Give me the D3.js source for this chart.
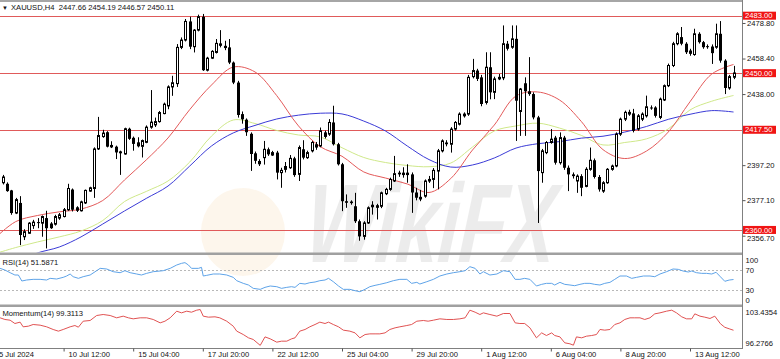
<!DOCTYPE html>
<html>
<head>
<meta charset="utf-8">
<script src="https://cdn.jsdelivr.net/npm/d3@7/dist/d3.min.js"></script>
<style>
html,body{margin:0;padding:0;background:#fff;overflow:hidden;}
svg{display:block;font-family:"Liberation Sans",Arial,sans-serif;}
</style>
</head>
<body>
<svg id="chart" width="780" height="359"></svg>
<script>
// ---------------- DATA ----------------
const symbolTitle = "XAUUSD,H4";
const lastOHLC = "2447.66 2454.19 2446.57 2450.11";
const firstBar = 2;
const opens = [
2387.1,2386.5,2382.7,2369.7,2375.5,2356.1,2358.1,2362.5,2364.5,2363.9,
2366.8,2363.7,2363.3,2366.8,2367.7,2371.6,2383.2,2373.0,2371.0,2375.5,
2382.3,2383.8,2406.5,2413.6,2416.1,2408.8,2407.8,2405.1,2403.6,2418.1,
2412.9,2410.3,2408.0,2410.3,2419.0,2420.3,2422.2,2426.8,2431.2,2442.1,
2444.0,2464.8,2469.0,2479.7,2465.2,2474.7,2482.4,2451.7,2458.6,2461.9,
2467.1,2465.7,2464.8,2456.1,2444.6,2426.5,2423.3,2415.2,2404.0,2399.6,
2401.5,2406.3,2403.0,2404.4,2392.9,2396.7,2395.7,2401.1,2391.9,2406.3,
2401.5,2405.4,2409.2,2408.2,2416.0,2415.0,2421.7,2409.2,2397.7,2376.5,
2376.3,2373.6,2365.0,2356.3,2364.0,2373.3,2374.2,2373.6,2380.8,2383.3,
2388.1,2392.9,2392.9,2392.9,2391.9,2381.5,2379.0,2379.4,2388.1,2389.0,
2393.8,2405.4,2410.2,2409.2,2417.9,2420.7,2425.5,2426.5,2448.0,2451.5,
2447.6,2433.2,2453.4,2439.0,2446.7,2447.3,2466.9,2464.9,2469.7,2428.0,
2444.2,2439.6,2438.0,2424.6,2392.9,2404.4,2410.2,2413.0,2398.6,2413.0,
2395.7,2391.9,2388.1,2390.9,2385.0,2394.8,2400.0,2390.4,2382.3,2387.1,
2394.8,2396.7,2415.0,2423.6,2426.5,2426.9,2417.9,2423.6,2425.5,2430.3,
2430.3,2424.6,2434.6,2442.8,2454.4,2466.9,2470.7,2466.9,2463.0,2460.7,
2472.6,2467.8,2465.5,2465.3,2464.9,2472.6,2457.2,2441.5,2447.66];
const highs = [
2391.6,2387.3,2383.0,2378.4,2379.4,2360.4,2364.5,2365.8,2366.8,2368.3,
2371.0,2364.5,2368.7,2369.7,2372.6,2386.5,2383.8,2373.6,2376.8,2383.2,
2384.8,2407.4,2424.9,2417.5,2416.7,2410.9,2408.4,2405.5,2418.7,2418.7,
2413.6,2413.2,2411.9,2420.0,2440.3,2424.5,2428.3,2433.1,2443.0,2448.5,
2466.7,2470.5,2481.1,2482.4,2475.3,2483.6,2484.0,2459.4,2463.2,2469.6,
2474.7,2468.6,2469.6,2456.7,2445.6,2428.0,2424.0,2416.0,2405.0,2400.6,
2411.1,2407.3,2405.4,2405.4,2395.7,2399.0,2403.0,2402.0,2408.5,2411.5,
2405.5,2411.0,2410.5,2418.8,2417.0,2423.6,2431.3,2410.0,2398.5,2380.4,
2377.0,2381.3,2366.0,2365.0,2373.5,2376.5,2375.0,2382.0,2384.2,2390.0,
2402.5,2394.0,2396.0,2397.7,2393.0,2384.2,2383.0,2389.0,2391.0,2395.5,
2406.5,2412.0,2411.5,2419.0,2422.5,2427.5,2427.5,2449.0,2458.2,2452.5,
2449.0,2462.0,2462.0,2448.0,2449.5,2477.4,2468.5,2477.4,2477.4,2441.5,
2447.6,2459.2,2439.0,2425.5,2406.5,2411.0,2417.9,2414.0,2416.0,2414.0,
2397.0,2393.0,2391.9,2392.0,2396.0,2407.3,2401.0,2391.5,2388.0,2395.5,
2397.5,2416.0,2424.5,2428.5,2429.0,2429.5,2426.5,2427.5,2437.1,2431.5,
2431.0,2436.0,2443.5,2455.5,2468.0,2473.5,2476.5,2467.8,2464.0,2475.5,
2473.5,2468.5,2466.5,2466.5,2478.4,2479.9,2458.0,2449.0,2454.19];
const lows = [
2386.1,2381.9,2368.7,2369.1,2351.3,2354.2,2357.7,2360.6,2361.0,2356.1,
2349.4,2360.6,2362.5,2365.8,2367.2,2371.0,2370.6,2370.3,2370.6,2374.9,
2381.9,2378.4,2405.9,2412.9,2407.4,2407.0,2400.7,2391.6,2403.2,2411.7,
2405.5,2407.4,2401.6,2409.8,2418.1,2419.1,2421.6,2426.4,2429.3,2437.0,
2442.1,2463.8,2468.2,2463.8,2461.9,2474.0,2451.3,2451.0,2458.1,2461.3,
2464.8,2463.2,2455.2,2443.7,2424.5,2421.0,2414.0,2393.9,2398.0,2396.7,
2397.5,2402.5,2402.5,2389.0,2384.2,2393.0,2395.0,2390.5,2388.1,2400.5,
2400.8,2404.5,2406.0,2407.5,2412.5,2414.0,2408.5,2397.0,2370.8,2372.7,
2374.5,2364.0,2353.8,2354.4,2363.5,2368.8,2366.0,2372.5,2380.0,2382.5,
2387.5,2390.5,2390.0,2387.1,2369.8,2377.0,2376.5,2378.5,2387.0,2384.0,
2383.3,2404.5,2408.0,2404.4,2417.0,2420.0,2424.5,2425.5,2447.0,2445.5,
2431.0,2432.0,2435.0,2435.1,2446.0,2446.0,2463.0,2464.0,2411.1,2414.0,
2414.0,2437.0,2423.5,2364.0,2387.1,2403.5,2409.5,2397.5,2397.5,2394.5,
2382.3,2389.5,2381.3,2379.4,2384.5,2394.0,2389.5,2382.0,2381.3,2386.5,
2394.0,2396.0,2414.0,2422.5,2425.5,2416.0,2417.0,2422.5,2424.5,2429.0,
2424.5,2423.6,2434.0,2442.0,2453.5,2466.0,2466.0,2461.0,2460.0,2460.0,
2467.0,2464.0,2464.0,2455.3,2464.0,2456.0,2438.0,2440.5,2446.57];
const closes = [
2390.4,2382.3,2369.7,2377.4,2357.1,2359.0,2363.9,2364.5,2364.1,2367.7,
2361.0,2361.0,2367.7,2368.7,2371.6,2383.8,2371.6,2371.0,2376.1,2382.7,
2384.2,2406.5,2414.2,2415.6,2407.8,2407.4,2404.5,2404.0,2418.1,2412.3,
2409.4,2408.0,2411.3,2419.0,2421.9,2422.2,2427.4,2432.2,2442.1,2444.5,
2464.8,2469.0,2479.7,2465.2,2474.7,2482.4,2451.7,2458.6,2462.5,2467.1,
2465.7,2464.4,2456.1,2444.6,2426.0,2423.5,2416.1,2403.6,2399.7,2397.7,
2406.3,2403.4,2404.4,2392.9,2394.2,2394.5,2401.1,2391.5,2407.3,2401.5,
2404.4,2410.2,2407.3,2416.9,2413.4,2421.7,2409.2,2397.7,2376.5,2375.6,
2375.4,2365.0,2356.3,2364.0,2372.7,2374.2,2372.7,2381.3,2383.3,2389.0,
2392.3,2391.9,2391.5,2391.5,2381.5,2378.5,2377.5,2388.1,2389.0,2394.2,
2405.4,2411.1,2409.2,2417.9,2421.7,2426.5,2426.5,2447.6,2451.5,2446.7,
2432.3,2453.4,2439.0,2446.7,2447.6,2466.9,2464.0,2469.7,2434.2,2440.9,
2439.6,2438.0,2424.6,2393.8,2405.4,2410.2,2412.1,2398.6,2413.0,2395.7,
2391.9,2390.9,2390.9,2384.2,2394.8,2400.0,2390.4,2383.3,2387.1,2394.8,
2396.7,2415.0,2423.6,2427.5,2427.5,2416.9,2425.5,2426.5,2430.7,2429.9,
2425.5,2435.1,2442.8,2454.4,2466.9,2472.6,2466.9,2462.0,2461.1,2472.6,
2467.8,2464.9,2465.0,2461.5,2472.6,2457.2,2441.5,2448.0,2450.11];

// moving averages sampled every 5 bars (bar index list below)
const maBars = [0,5,10,15,20,25,30,35,40,45,50,55,60,65,70,75,80,85,90,95,100,105,110,115,120,125,130,135,140,145,150,155,160,165,170];
const maRed = [2354.8,2364.8,2368.3,2370.4,2372.0,2376.9,2388.7,2400.2,2412.8,2429.1,2443.2,2453.5,2450.7,2437.1,2419.7,2407.8,2402.3,2393.3,2389.8,2386.4,2381.5,2389.5,2405.9,2420.2,2436.9,2439.2,2434.6,2422.3,2406.1,2401.0,2405.3,2416.2,2433.6,2449.5,2455.0];
const maYellow = [2346.2,2349.9,2353.1,2356.0,2359.4,2365.4,2376.3,2382.1,2388.1,2399.0,2413.9,2423.1,2421.1,2417.1,2414.5,2413.4,2407.2,2401.6,2398.7,2397.0,2396.3,2398.4,2407.6,2416.8,2419.7,2421.3,2418.5,2414.3,2408.8,2410.2,2412.3,2418.0,2428.9,2433.9,2437.2];
const maBlue = [2337.0,2341.6,2346.8,2350.2,2356.0,2363.4,2370.9,2378.1,2385.2,2396.7,2408.2,2415.7,2420.0,2423.7,2425.9,2427.0,2426.6,2422.5,2416.8,2408.2,2400.4,2396.1,2397.3,2401.3,2407.0,2409.5,2410.7,2412.7,2413.8,2416.2,2419.4,2423.5,2426.4,2428.5,2427.7];

const levels = [2483.00, 2450.00, 2417.50, 2360.00];
const priceTicks = [2478.80, 2458.40, 2438.00, 2397.20, 2377.10, 2356.70];

const timeTickBars = [0,16,32,48,64,80,96,112,128,144,160];
const timeTickLabels = ["5 Jul 2024","10 Jul 12:00","15 Jul 04:00","17 Jul 20:00","22 Jul 12:00","25 Jul 04:00","29 Jul 20:00","1 Aug 12:00","6 Aug 04:00","8 Aug 20:00","13 Aug 12:00"];

const rsiTitle = "RSI(14) 51.5871";
const rsiTicks = [100, 70, 30, 0];
const rsiLevels = [70, 30];
const rsiBars = [1.4,2.5,3.7,4.8,5.6,6.4,7.5,9.0,10.6,12.1,12.9,14.4,15.9,16.7,17.5,18.2,19.4,20.5,22.1,23.6,24.4,25.9,27.4,29.0,30.1,31.3,32.8,33.9,35.1,36.6,38.9,40.5,42.0,43.1,43.9,44.7,45.4,47.0,47.7,48.1,48.9,50.4,51.9,53.5,55.0,55.8,57.3,58.5,59.6,
61.2,62.3,63.5,65.0,66.1,67.3,68.4,69.2,70.3,71.5,72.6,73.8,74.9,76.1,76.9,78.0,79.2,80.3,81.8,83.0,84.1,85.3,86.4,87.6,88.7,90.3,91.8,93.3,94.9,96.0,97.2,97.9,99.5,101.0,102.5,104.1,105.6,107.1,108.3,109.4,110.6,111.7,112.5,114.0,115.6,117.1,118.6,119.8,
120.9,122.0,123.2,124.7,125.9,127.0,128.2,128.9,130.1,131.2,132.4,133.5,134.7,135.8,137.0,138.1,139.3,140.4,141.6,142.7,143.9,145.4,146.6,147.7,149.3,150.8,151.9,153.1,154.6,156.1,157.3,158.4,159.6,160.4,161.5,162.7,163.8,165.0,166,167,168,169,170];
const rsiValues = [73.9,70.6,65.2,60.6,60.6,48.6,50.6,51.9,51.9,50.6,53.9,52.6,55.9,58.6,62.6,57.2,53.9,57.2,60.6,69.2,73.9,72.6,67.2,65.2,69.2,65.2,62.6,60.6,63.9,67.2,69.2,73.9,80.6,83.9,85.3,80.6,73.9,73.9,75.9,58.6,59.9,62.6,62.6,60.6,55.9,49.2,43.9,40.6,33.9,
31.9,35.9,38.6,37.2,33.9,35.9,37.2,35.9,43.9,42.6,45.2,46.6,49.2,50.6,53.9,47.2,38.6,31.9,31.9,29.2,27.2,31.9,37.2,39.9,41.9,45.2,49.2,51.9,51.9,43.9,45.9,42.6,47.2,51.9,58.6,62.6,65.2,67.2,69.2,77.2,73.9,62.6,67.2,60.6,62.6,69.2,67.2,51.9,
51.9,53.9,51.9,38.6,41.9,43.9,43.9,40.6,45.9,41.9,40.6,39.2,41.9,43.9,43.9,41.9,40.6,43.9,45.9,51.9,58.6,58.6,53.9,55.9,58.6,58.6,57.2,62.6,67.2,72.6,71.9,68.6,66.6,68.6,65.2,63.9,63.9,62.6,66.0,57.0,48.0,50.5,51.6];

const momTitle = "Momentum(14) 99.3113";
const momMax = 103.4354, momMin = 96.2766;
const momBars = [1.4,2.5,3.7,4.8,6.0,6.7,7.9,9.0,10.6,12.1,13.6,14.8,15.9,17.5,18.6,19.4,20.5,22.1,23.6,25.1,26.7,28.2,29.7,30.9,32.0,33.6,35.1,36.6,38.2,39.3,40.5,42.0,43.1,44.3,45.4,46.6,47.4,48.1,49.3,50.8,51.9,53.5,55.0,55.8,57.3,58.5,59.6,
61.2,62.3,63.5,65.0,66.1,67.3,68.4,69.2,70.3,71.5,72.6,73.8,74.9,76.1,76.9,78.0,79.2,80.3,81.8,83.0,84.1,85.3,86.4,87.6,88.7,89.9,91.0,92.2,93.3,94.9,96.0,97.2,98.7,99.8,101.0,102.5,104.1,105.6,107.1,108.3,109.4,110.6,111.7,112.5,114.0,115.6,117.1,118.6,119.8,
120.9,122.0,123.2,124.7,125.9,127.0,128.2,128.9,130.1,131.2,132.4,133.2,133.9,135.1,136.2,137.4,138.5,139.3,140.4,141.6,142.7,143.9,145.0,146.2,147.3,148.5,149.6,150.8,151.9,153.1,154.6,155.8,156.9,158.1,159.2,160.4,161.1,162.3,163.4,164.6,165.7,167,168,169,170];
const momValues = [101.78,101.45,101.31,100.65,100.92,99.99,100.12,100.45,100.32,99.99,99.46,99.13,99.46,99.99,100.25,99.92,101.11,101.25,102.24,102.44,102.24,101.78,102.11,101.78,101.58,101.78,101.78,101.45,100.78,101.11,101.78,103.10,102.77,103.10,102.90,103.30,103.43,102.11,101.91,101.98,101.78,101.11,100.12,99.13,98.46,97.80,97.47,
96.30,97.99,97.60,96.94,97.14,97.14,97.60,97.80,99.13,99.46,99.99,100.45,100.92,100.65,100.92,100.45,99.99,99.33,99.13,98.79,97.80,98.46,98.59,98.59,98.59,98.79,99.46,99.79,99.99,100.25,100.45,101.11,101.25,101.11,101.31,101.58,101.45,101.45,101.58,101.78,103.30,102.90,102.44,102.77,102.44,102.11,102.64,102.64,100.78,
100.65,100.65,99.79,97.80,98.79,98.26,98.79,98.26,97.99,96.81,96.61,96.34,97.99,97.80,98.13,98.26,98.46,99.46,99.33,99.46,100.45,100.78,101.45,101.78,101.78,101.78,101.45,101.78,102.57,102.77,103.10,103.30,102.77,101.98,101.58,101.58,102.57,102.11,101.91,101.65,102.11,100.6,99.9,99.6,99.31];

// ---------------- LAYOUT ----------------
const W = 780, H = 359;
const axisX = 742.5;
const mainTop = 3, mainBot = 252.5;
const rsiTop = 255, rsiBot = 305;
const momTop = 307, momBot = 348;
const FONT = 7.6;

const svg = d3.select("#chart");
const x = d3.scaleLinear().domain([0, 170]).range([-6, 733.5]);
const yP = d3.scaleLinear().domain([2347.34, 2490.28]).range([252, 3]);
const yR = d3.scaleLinear().domain([0, 100]).range([305.3, 255.3]);
const yM = d3.scaleLinear().domain([momMin, momMax]).range([345.5, 309.5]);

const defs = svg.append("defs");
function clip(id, y0, y1) {
  defs.append("clipPath").attr("id", id).append("rect")
    .attr("x", 0).attr("y", y0).attr("width", axisX).attr("height", y1 - y0);
}
clip("cMain", mainTop, mainBot);
clip("cRsi", rsiTop, rsiBot);
clip("cMom", momTop, momBot);

svg.append("rect").attr("width", W).attr("height", H).attr("fill", "#fff");

// watermark (faint)
const wm = svg.append("g").attr("opacity", 0.08);
wm.append("text").attr("x", 355).attr("y", 262)
  .attr("transform", "skewX(-12)")
  .attr("font-size", 112).attr("font-weight", "bold")
  .attr("textLength", 250).attr("lengthAdjust", "spacingAndGlyphs")
  .attr("fill", "#222").text("WikiFX");
svg.append("ellipse").attr("cx", 243).attr("cy", 232).attr("rx", 42).attr("ry", 44)
  .attr("fill", "#f0b860").attr("opacity", 0.12);

// ---------------- MAIN PANEL ----------------
const main = svg.append("g").attr("clip-path", "url(#cMain)");

main.selectAll("line.lvl").data(levels).enter().append("line")
  .attr("x1", 0).attr("x2", axisX)
  .attr("y1", d => Math.round(yP(d)) + 0.5).attr("y2", d => Math.round(yP(d)) + 0.5)
  .attr("stroke", "#e05a5a").attr("stroke-width", 1);

function maLine(vals, color) {
  const pts = maBars.map((b, k) => [x(b), yP(vals[k])]);
  main.append("path").attr("d", d3.line().curve(d3.curveCatmullRom.alpha(0.5))(pts))
    .attr("fill", "none").attr("stroke", color).attr("stroke-width", 1);
}
maLine(maYellow, "#cfe88a");
maLine(maBlue, "#3b3bd6");
maLine(maRed, "#e35a5a");

const candles = opens.map((o, k) => ({ i: firstBar + k, o, h: highs[k], l: lows[k], c: closes[k] }));
const cg = main.append("g");
candles.forEach(d => {
  const cx = Math.round(x(d.i));
  cg.append("line").attr("x1", cx + 0.5).attr("x2", cx + 0.5)
    .attr("y1", yP(d.h)).attr("y2", yP(d.l)).attr("stroke", "#000").attr("stroke-width", 1);
  const yt = yP(Math.max(d.o, d.c)), yb = yP(Math.min(d.o, d.c));
  if (d.c >= d.o) {
    cg.append("rect").attr("x", cx - 0.5).attr("y", yt).attr("width", 2)
      .attr("height", Math.max(1, yb - yt)).attr("fill", "#fff").attr("stroke", "#000").attr("stroke-width", 1);
  } else {
    cg.append("rect").attr("x", cx - 1).attr("y", yt).attr("width", 3)
      .attr("height", Math.max(1, yb - yt)).attr("fill", "#000");
  }
});

// ---------------- RSI PANEL ----------------
const rsiG = svg.append("g").attr("clip-path", "url(#cRsi)");
rsiG.selectAll("line.lv").data(rsiLevels).enter().append("line")
  .attr("x1", 0).attr("x2", axisX)
  .attr("y1", d => Math.round(yR(d)) + 0.5).attr("y2", d => Math.round(yR(d)) + 0.5)
  .attr("stroke", "#b8b8b8").attr("stroke-dasharray", "2,2");
rsiG.append("path")
  .attr("d", d3.line()(rsiBars.map((b, k) => [x(b), yR(rsiValues[k])])))
  .attr("fill", "none").attr("stroke", "#5ea3e8").attr("stroke-width", 1);

// ---------------- MOMENTUM PANEL ----------------
const momG = svg.append("g").attr("clip-path", "url(#cMom)");
momG.append("path")
  .attr("d", d3.line()(momBars.map((b, k) => [x(b), yM(momValues[k])])))
  .attr("fill", "none").attr("stroke", "#e05252").attr("stroke-width", 1);

// ---------------- FRAMES ----------------
svg.append("rect").attr("x", 0).attr("y", 0).attr("width", axisX).attr("height", 2).attr("fill", "#a6a6a6");
svg.append("rect").attr("x", 0).attr("y", 252.5).attr("width", axisX).attr("height", 2.5).attr("fill", "#a0a0a0");
svg.append("rect").attr("x", 0).attr("y", 304.5).attr("width", axisX).attr("height", 2.5).attr("fill", "#a0a0a0");
svg.append("line").attr("x1", 0).attr("x2", axisX).attr("y1", 348.5).attr("y2", 348.5).attr("stroke", "#808080");
svg.append("line").attr("x1", axisX).attr("x2", axisX).attr("y1", 0).attr("y2", 349).attr("stroke", "#808080");

// ---------------- AXES ----------------
const pAxis = svg.append("g").attr("transform", `translate(${axisX},0)`)
  .call(d3.axisRight(yP).tickValues(priceTicks).tickFormat(d3.format(".2f")).tickSize(3).tickPadding(1.5));
pAxis.select(".domain").remove();
pAxis.selectAll("text").attr("font-size", FONT).attr("font-family", "Liberation Sans, Arial, sans-serif").attr("fill", "#111");
pAxis.selectAll("line").attr("stroke", "#555");
// the lowest tick sits just under the 2360 box in the terminal: nudge its text slightly lower
pAxis.selectAll(".tick").filter(d => d === 2356.70).select("text").attr("dy", "0.62em");

const lb = svg.append("g");
levels.forEach(v => {
  const yy = yP(v);
  lb.append("rect").attr("x", axisX + 0.5).attr("y", yy - 4).attr("width", 33).attr("height", 8).attr("fill", "#f01414");
  lb.append("text").attr("x", axisX + 2.5).attr("y", yy).attr("dy", "0.35em")
    .attr("font-size", FONT).attr("fill", "#fff").text(d3.format(".2f")(v));
});

svg.append("g").selectAll("text").data(rsiTicks).enter().append("text")
  .attr("x", axisX + 3).attr("y", d => Math.min(rsiBot - 5, Math.max(rsiTop + 5.5, yR(d))))
  .attr("dy", "0.35em").attr("font-size", FONT).attr("fill", "#111").text(d => d);

svg.append("g").selectAll("text").data([momMax, momMin]).enter().append("text")
  .attr("x", axisX + 3).attr("y", d => Math.min(momBot - 4.5, Math.max(momTop + 5.5, yM(d))))
  .attr("dy", "0.35em").attr("font-size", FONT).attr("fill", "#111").text(d => d3.format(".4f")(d));

const tAxis = svg.append("g").attr("transform", `translate(0,${momBot + 0.5})`)
  .call(d3.axisBottom(x).tickValues(timeTickBars).tickFormat((d, k) => timeTickLabels[k]).tickSize(3).tickPadding(0));
tAxis.select(".domain").remove();
tAxis.selectAll("line").attr("stroke", "#555");
tAxis.selectAll("text").attr("font-size", FONT).attr("font-family", "Liberation Sans, Arial, sans-serif")
  .attr("fill", "#111").attr("text-anchor", "start").attr("dx", 4.5).attr("y", 2).attr("dy", "0.9em");

svg.append("text").attr("x", 2).attr("y", 10).attr("font-size", 6).attr("fill", "#111").text("▼");
svg.append("text").attr("x", 11).attr("y", 10.3).attr("font-size", FONT).attr("fill", "#111")
  .attr("xml:space", "preserve").text(symbolTitle + "  " + lastOHLC);
svg.append("text").attr("x", 2.5).attr("y", 265).attr("font-size", FONT).attr("fill", "#111").text(rsiTitle);
svg.append("text").attr("x", 2.5).attr("y", 316).attr("font-size", FONT).attr("fill", "#111").text(momTitle);
</script>
</body>
</html>
